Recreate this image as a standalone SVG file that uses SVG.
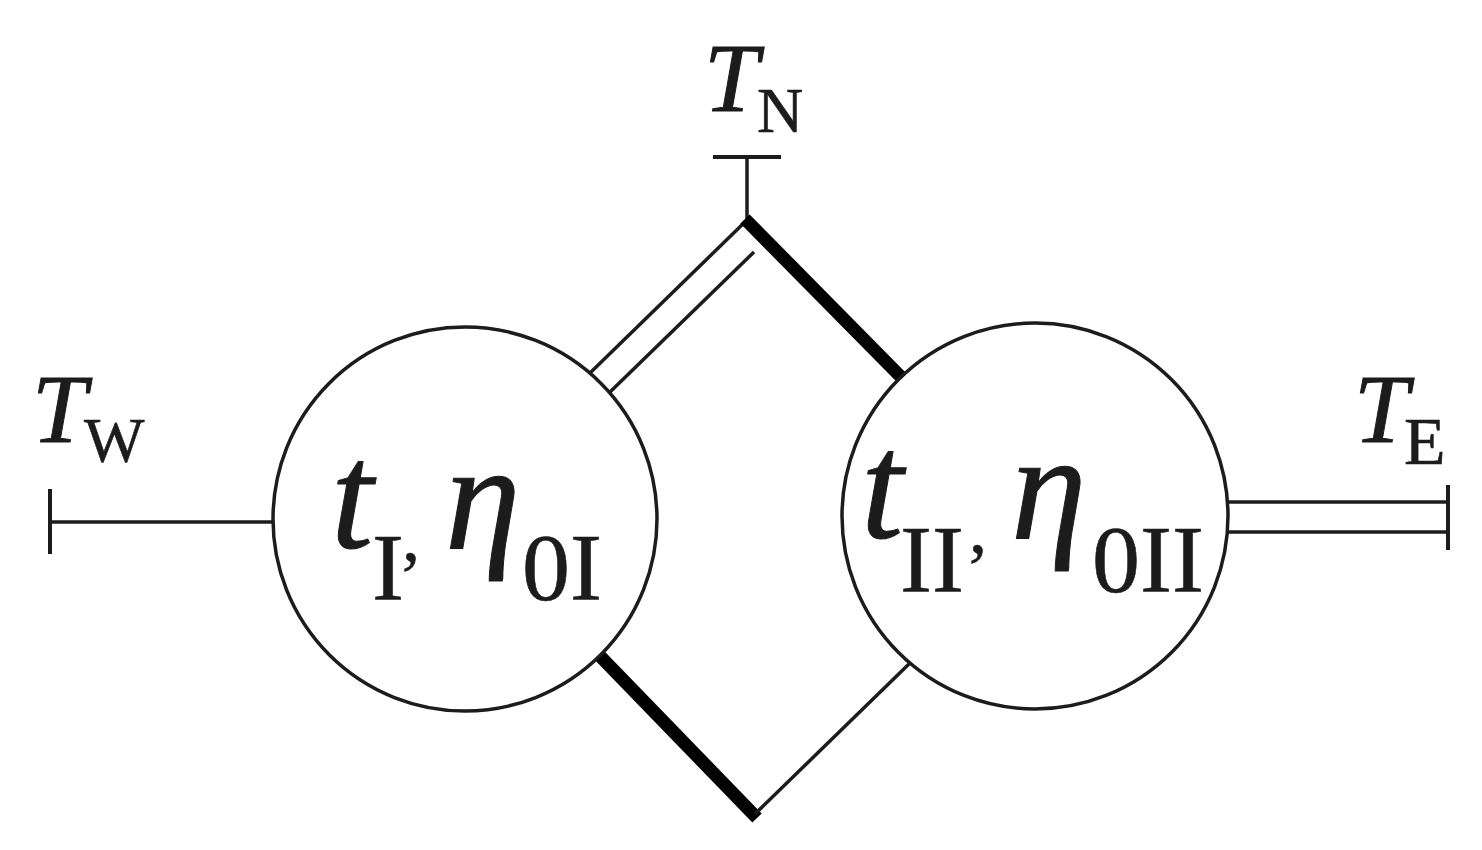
<svg xmlns="http://www.w3.org/2000/svg" width="1482" height="850" viewBox="0 0 1482 850">
<style>
.ln{stroke:#1c1c1c;stroke-width:3.5;fill:none;stroke-linecap:butt}
.tk{stroke:#1c1c1c;stroke-width:4;fill:none}
.thick{stroke:#000;stroke-width:13;fill:none;stroke-linecap:butt}
.node{fill:#fff;stroke:#1c1c1c;stroke-width:3.5}
.it{font-family:"Liberation Serif","Times New Roman",serif;font-style:italic;fill:#1c1c1c;stroke:#1c1c1c;stroke-width:1}
.rm{font-family:"Liberation Serif","Times New Roman",serif;fill:#1c1c1c;stroke:#1c1c1c;stroke-width:0.6}
</style>
<rect width="1482" height="850" fill="#fff"/>
<g id="connectors">
  <line class="ln" x1="50" y1="522" x2="274" y2="522"/>
  <line class="ln" x1="747" y1="157" x2="747" y2="221"/>
  <line class="ln" x1="747" y1="220" x2="590" y2="373"/>
  <line class="ln" x1="754" y1="252" x2="610" y2="392"/>
  <line class="thick" x1="745" y1="219" x2="901" y2="377"/>
  <line class="thick" x1="599" y1="655" x2="757" y2="818"/>
  <line class="ln" x1="755" y1="814" x2="910" y2="663"/>
  <line class="ln" x1="1227" y1="502" x2="1448" y2="502"/>
  <line class="ln" x1="1227" y1="532" x2="1448" y2="532"/>
</g>
<g id="TW">
  <line class="tk" x1="50" y1="489" x2="50" y2="554"/>
  <text class="it" x="32" y="442" font-size="98">T</text>
  <text class="rm" x="84" y="462" font-size="64">W</text>
</g>
<g id="TN">
  <line class="tk" x1="713" y1="157" x2="781" y2="157"/>
  <text class="it" x="704" y="111" font-size="98">T</text>
  <text class="rm" x="757" y="132" font-size="64">N</text>
</g>
<g id="TE">
  <line class="tk" x1="1448" y1="485" x2="1448" y2="550"/>
  <text class="it" x="1354" y="442" font-size="98">T</text>
  <text class="rm" x="1404" y="464" font-size="68">E</text>
</g>
<g id="nodeI">
  <circle class="node" cx="465" cy="519" r="192"/>
  <text class="it" x="331" y="548" font-size="152">t</text>
  <text class="rm" x="372" y="600" font-size="96">I</text>
  <text class="rm" x="402" y="560" font-size="72">,</text>
  <text class="it" x="445" y="548" font-size="152">η</text>
  <text class="rm" x="522" y="600" font-size="96">0I</text>
</g>
<g id="nodeII">
  <circle class="node" cx="1035" cy="516" r="193"/>
  <text class="it" x="861" y="538" font-size="152">t</text>
  <text class="rm" x="900" y="592" font-size="96">II</text>
  <text class="rm" x="969" y="552" font-size="72">,</text>
  <text class="it" x="1011" y="538" font-size="152">η</text>
  <text class="rm" x="1092" y="592" font-size="96">0II</text>
</g>
</svg>
